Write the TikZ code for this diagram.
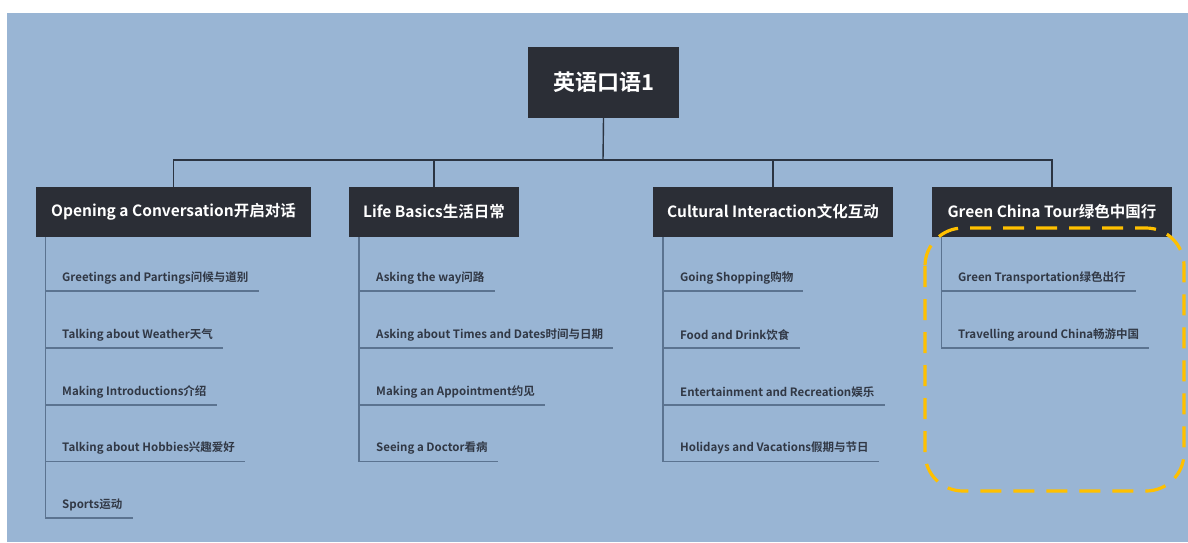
\documentclass[tikz,border=0pt]{standalone}
\usepackage{fontspec}
\setmainfont{Noto Sans CJK SC}[BoldFont={Noto Sans CJK SC Bold}]
\usetikzlibrary{positioning}
\definecolor{bgblue}{HTML}{99B5D4}
\definecolor{boxdark}{HTML}{2B2E36}
\definecolor{busline}{HTML}{2B3442}
\definecolor{subline}{HTML}{5B7390}
\definecolor{subtext}{HTML}{313845}
\definecolor{hilite}{HTML}{FFC000}
\tikzset{
  rootbox/.style={fill=boxdark, text=white, font=\bfseries\fontsize{22}{26}\selectfont, minimum width=151pt, minimum height=71pt, inner sep=0pt},
  topicbox/.style={fill=boxdark, text=white, font=\bfseries\fontsize{15.5}{18}\selectfont, minimum height=50pt, inner sep=0pt},
  itemtext/.style={text=subtext, font=\bfseries\fontsize{11.5}{14}\selectfont, anchor=south west, minimum height=26pt, inner xsep=0pt, inner ysep=0pt},
  busedge/.style={draw=busline, line width=1.4pt},
  itemedge/.style={draw=subline, line width=1.6pt},
}
\begin{document}
\begin{tikzpicture}[x=1pt,y=-1pt]
\useasboundingbox (0,0) rectangle (1188,542);
\fill[bgblue] (7,13) rectangle (1188,542);

% root
\node[rootbox] (root) at (603.5,82.5) {英语口语1};

% topics
\node[topicbox, minimum width=275pt] (op) at (173.5,212) {Opening a Conversation开启对话};
\node[topicbox, minimum width=170pt] (lb) at (434,212) {Life Basics生活日常};
\node[topicbox, minimum width=240pt] (ci) at (773,212) {Cultural Interaction文化互动};
\node[topicbox, minimum width=240pt] (gc) at (1052,212) {Green China Tour绿色中国行};

% bus connectors
\coordinate (bus) at (603,160);
\draw[busedge] (root.south) -- (bus);
\draw[busedge] (op.north) |- (bus);
\draw[busedge] (gc.north) |- (bus);
\draw[busedge] (lb.north) -- (lb.north |- bus);
\draw[busedge] (ci.north) -- (ci.north |- bus);

% items: Opening
\node[itemtext] (op1) at (62,291) {Greetings and Partings问候与道别};
\node[itemtext] (op2) at (62,348) {Talking about Weather天气};
\node[itemtext] (op3) at (62,405) {Making Introductions介绍};
\node[itemtext] (op4) at (62,461.5) {Talking about Hobbies兴趣爱好};
\node[itemtext] (op5) at (62,518) {Sports运动};
\foreach \i in {1,...,5}{
  \draw[itemedge] ([xshift=9.5pt]op.south west) |- ([xshift=10pt]op\i.south east);
}

% items: Life Basics
\node[itemtext] (lb1) at (376,291) {Asking the way问路};
\node[itemtext] (lb2) at (376,348) {Asking about Times and Dates时间与日期};
\node[itemtext] (lb3) at (376,405) {Making an Appointment约见};
\node[itemtext] (lb4) at (376,461.5) {Seeing a Doctor看病};
\foreach \i in {1,...,4}{
  \draw[itemedge] ([xshift=10pt]lb.south west) |- ([xshift=10pt]lb\i.south east);
}

% items: Cultural Interaction
\node[itemtext] (ci1) at (680,291) {Going Shopping购物};
\node[itemtext] (ci2) at (680,348) {Food and Drink饮食};
\node[itemtext] (ci3) at (680,405) {Entertainment and Recreation娱乐};
\node[itemtext] (ci4) at (680,461.5) {Holidays and Vacations假期与节日};
\foreach \i in {1,...,4}{
  \draw[itemedge] ([xshift=10pt]ci.south west) |- ([xshift=10pt]ci\i.south east);
}

% items: Green China Tour
\node[itemtext] (gc1) at (958,291) {Green Transportation绿色出行};
\node[itemtext] (gc2) at (958,348) {Travelling around China畅游中国};
\foreach \i in {1,2}{
  \draw[itemedge] ([xshift=9.5pt]gc.south west) |- ([xshift=10pt]gc\i.south east);
}

% highlight
\draw[hilite, line width=3.2pt, dash pattern=on 21pt off 12pt, rounded corners=38pt] (925,228) rectangle (1184,491);
\end{tikzpicture}
\end{document}
